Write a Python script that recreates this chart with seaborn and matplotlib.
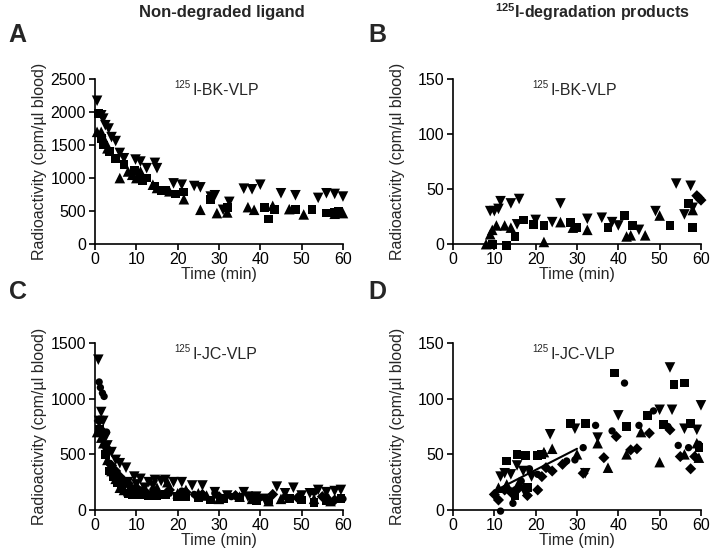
import numpy as np
import pandas as pd
import matplotlib
matplotlib.use("Agg")
import matplotlib.pyplot as plt
import seaborn as sns

# ── data ─────────────────────────────────────────────────────
# A: 125I-BK-VLP, non-degraded ligand
A_DOWN_X = [0.5, 1.5, 2, 2.5, 3.3, 4, 5, 6, 7, 9.8, 11, 12.5, 14.5, 15, 19, 21, 24, 25.5,
            28, 29, 31, 32.5, 36, 38, 40, 45, 48.5, 54, 56, 58, 60]
A_DOWN_Y = [2170, 1950, 1900, 1800, 1750, 1620, 1560, 1380, 1300, 1280, 1250, 1150, 1230,
            1150, 920, 900, 880, 860, 720, 740, 520, 640, 840, 830, 900, 770, 740, 700,
            770, 760, 720]
A_UP_X = [0.5, 1.5, 2.5, 3, 6, 8, 9, 10, 11, 14, 15, 18, 21.5, 25.5, 29.5, 32, 37, 38.5,
          43, 47, 50.5, 58, 60]
A_UP_Y = [1700, 1700, 1550, 1450, 1000, 1100, 1050, 1000, 1100, 900, 850, 800, 680, 520,
          470, 480, 560, 520, 580, 530, 450, 460, 470]
A_SQ_X = [0.8, 1.5, 2, 3.5, 5, 7, 9.5, 11.5, 12.5, 14.5, 16, 17, 19.5, 21.5, 28, 32, 41,
          42, 43.5, 48.5, 52.5, 56, 58, 59]
A_SQ_Y = [1980, 1600, 1500, 1400, 1300, 1200, 1120, 960, 1000, 880, 810, 820, 760, 790,
          680, 550, 560, 380, 530, 530, 520, 470, 480, 490]

# B: 125I-BK-VLP, degradation products
B_DOWN_X = [9, 10, 11, 11.5, 14, 16, 15.5, 20, 24, 26, 32.5, 36, 38.5, 40, 45, 49, 54,
            57.5, 56, 58]
B_DOWN_Y = [30, 30, 32, 39, 37, 41, 18, 22, 20, 37, 23, 24, 20, 17, 13, 30, 55, 53, 27, 33]
B_UP_X = [8, 9, 9.5, 10.5, 12.5, 14, 22, 26, 29, 32.5, 42, 43, 46.5, 50, 58]
B_UP_Y = [0, 9, 13, 17, 17, 15, 2, 20, 15, 13, 7, 8, 8, 26, 31]
B_SQ_X = [9.5, 13, 15, 17, 19.5, 22, 28.5, 30, 37.5, 41.5, 43.5, 52.5, 57, 58]
B_SQ_Y = [0, -1, 7, 22, 18, 17, 20, 15, 15, 26, 17, 17, 37, 15]
B_DIA_X = [59, 60, 59.5]
B_DIA_Y = [44, 40, 42]

# C: 125I-JC-VLP, non-degraded ligand
C_DOWN_X = [0.8, 1, 1.5, 2, 2.5, 3, 4, 5, 6, 7.5, 9.5, 11, 13, 14.5, 16, 17, 19, 21, 23.5,
            26, 29, 32, 36, 37, 39, 41, 44, 46, 48, 50, 52, 54, 56, 58, 59.5, 8, 10, 12, 14]
C_DOWN_Y = [1350, 800, 880, 800, 650, 580, 520, 450, 420, 380, 300, 280, 250, 270, 260,
            270, 250, 250, 220, 220, 160, 130, 160, 120, 120, 100, 210, 150, 200, 130, 150,
            180, 160, 170, 180, 250, 230, 200, 220]
C_UP_X = [0.5, 1.5, 2, 3, 4, 5, 6, 7, 8, 10, 12, 15, 17.5, 20, 22, 25, 27, 30, 35, 38, 42,
          45, 53, 57]
C_UP_Y = [700, 650, 600, 450, 350, 280, 200, 180, 170, 180, 150, 200, 250, 150, 180, 150,
          130, 100, 120, 100, 80, 100, 100, 80]
C_SQ_X = [1, 2.5, 3.5, 4.5, 5.5, 6.5, 8, 9, 11, 13, 15, 17, 20, 22, 25, 28, 31, 35, 39, 42,
          47, 50, 53, 56, 59.5]
C_SQ_Y = [720, 500, 350, 300, 250, 200, 150, 140, 140, 130, 130, 140, 120, 120, 110, 90,
          100, 110, 80, 90, 100, 90, 70, 80, 100]
C_CIR_X = [1, 1.3, 1.8, 2.2, 2.8, 3.5, 4.5, 6, 7, 9, 11, 14, 18, 21, 24, 29, 33, 40, 46,
           53, 56, 60]
C_CIR_Y = [1150, 1100, 1050, 1020, 700, 420, 330, 250, 220, 200, 180, 180, 150, 170, 140,
           150, 120, 110, 120, 160, 120, 100]
C_DIA_X = [1, 2, 3, 4, 5, 6, 7, 8, 10, 12, 15, 18, 22, 26, 30, 34, 38, 43, 49, 55, 58]
C_DIA_Y = [800, 700, 550, 400, 350, 300, 260, 240, 200, 170, 150, 180, 160, 140, 120, 130,
           110, 140, 110, 120, 90]

# D: 125I-JC-VLP, degradation products
D_SQ_X = [13, 15.5, 17.5, 20.5, 21.5, 28.5, 32, 39, 42, 47, 51, 53.5, 56, 57.5, 59.5, 18, 15]
D_SQ_Y = [44, 50, 49, 49, 50, 78, 78, 123, 75, 85, 77, 113, 114, 78, 56, 20, 13]
D_DOWN_X = [11.5, 12.5, 14, 15.5, 17, 23.5, 29.5, 32, 35, 40, 50, 52.5, 53, 56, 59, 60,
            19, 17.5]
D_DOWN_Y = [30, 33, 32, 40, 35, 68, 73, 33, 65, 85, 90, 128, 90, 73, 72, 94, 30, 15]
D_UP_X = [11, 13, 16, 22, 24, 30, 35, 37.5, 42, 45.5, 50, 56, 59.5, 59]
D_UP_Y = [20, 23, 25, 52, 55, 50, 60, 38, 50, 70, 43, 50, 47, 60]
D_CIR_X = [11.5, 14.5, 15, 16.5, 18.5, 20.5, 27.5, 29.5, 31.5, 34.5, 38.5, 41.5, 45, 48.5,
           54.5, 59.5, 52, 57]
D_CIR_Y = [-1, 6, 18, 26, 37, 32, 44, 45, 56, 76, 71, 114, 76, 89, 58, 59, 75, 56]
D_DIA_X = [10, 11, 12.5, 14, 16, 18, 20.5, 22.5, 24, 26.5, 31.5, 36.5, 39.5, 43, 44.5,
           47.5, 52.5, 55, 57.5, 58.5, 21.5]
D_DIA_Y = [14, 9, 18, 16, 20, 13, 18, 38, 35, 41, 33, 47, 66, 54, 55, 69, 72, 48, 37, 48, 30]
D_FIT_X = [10, 30]
D_FIT_Y = [17, 55]

X_TICKS = [0, 10, 20, 30, 40, 50, 60]

# ── style ────────────────────────────────────────────────────
sns.set_theme(style="ticks")
plt.rcParams.update({
    "font.family": ["Liberation Sans", "DejaVu Sans"],
    "mathtext.default": "regular",
    "axes.linewidth": 1.2,
    "xtick.major.width": 1.2,
    "ytick.major.width": 1.2,
    "xtick.major.size": 4,
    "ytick.major.size": 4,
    "xtick.major.pad": 1.5,
    "ytick.major.pad": 2.5,
    "xtick.labelsize": 11.5,
    "ytick.labelsize": 11.5,
    "axes.labelsize": 11.5,
    "axes.edgecolor": "black",
    "xtick.color": "black",
    "ytick.color": "black",
})

MARKERS = {"down": "v", "up": "^", "sq": "s", "cir": "o", "dia": "D"}
SIZES = {"down": 58, "up": 58, "sq": 40, "cir": 28, "dia": 32}


def make_df(**groups):
    rows = []
    for name, (xs, ys) in groups.items():
        rows += [(x, y, name) for x, y in zip(xs, ys)]
    return pd.DataFrame(rows, columns=["t", "cpm", "animal"])


def draw(ax, df, ymax, yticks, label):
    for name, sub in df.groupby("animal"):
        sns.scatterplot(data=sub, x="t", y="cpm", marker=MARKERS[name], s=SIZES[name],
                        color="black", edgecolor="none", linewidth=0, ax=ax,
                        legend=False, clip_on=False, zorder=3)
    ax.set_xlim(0, 60)
    ax.set_ylim(0, ymax)
    ax.set_xticks(X_TICKS)
    ax.set_yticks(yticks)
    ax.set_xlabel("Time (min)", labelpad=0)
    ax.set_ylabel("Radioactivity (cpm/µl blood)")
    ax.yaxis.set_label_coords(-0.195, 0.5)
    sns.despine(ax=ax)
    ax.text(0.32, 0.965, "125", transform=ax.transAxes, fontsize=7, ha="left", va="center")
    ax.text(0.395, 0.93, label, transform=ax.transAxes, fontsize=11.5, ha="left", va="center")


fig = plt.figure(figsize=(7.16, 5.6), dpi=100)
axA = fig.add_axes([0.1327, 0.564, 0.3463, 0.295])
axB = fig.add_axes([0.6327, 0.564, 0.3463, 0.295])
axC = fig.add_axes([0.1327, 0.0893, 0.3463, 0.2982])
axD = fig.add_axes([0.6327, 0.0893, 0.3463, 0.2982])

draw(axA, make_df(down=(A_DOWN_X, A_DOWN_Y), up=(A_UP_X, A_UP_Y), sq=(A_SQ_X, A_SQ_Y)),
     2500, [0, 500, 1000, 1500, 2000, 2500], "I-BK-VLP")
draw(axB, make_df(down=(B_DOWN_X, B_DOWN_Y), up=(B_UP_X, B_UP_Y), sq=(B_SQ_X, B_SQ_Y),
                  dia=(B_DIA_X, B_DIA_Y)),
     150, [0, 50, 100, 150], "I-BK-VLP")
draw(axC, make_df(down=(C_DOWN_X, C_DOWN_Y), up=(C_UP_X, C_UP_Y), sq=(C_SQ_X, C_SQ_Y),
                  cir=(C_CIR_X, C_CIR_Y), dia=(C_DIA_X, C_DIA_Y)),
     1500, [0, 500, 1000, 1500], "I-JC-VLP")
draw(axD, make_df(down=(D_DOWN_X, D_DOWN_Y), up=(D_UP_X, D_UP_Y), sq=(D_SQ_X, D_SQ_Y),
                  cir=(D_CIR_X, D_CIR_Y), dia=(D_DIA_X, D_DIA_Y)),
     150, [0, 50, 100, 150], "I-JC-VLP")
sns.lineplot(x=D_FIT_X, y=D_FIT_Y, color="black", linewidth=1.5, ax=axD, zorder=4)

# panel letters and column titles
for letter, x, y in [("A", 0.012, 0.938), ("B", 0.514, 0.938),
                     ("C", 0.012, 0.479), ("D", 0.514, 0.479)]:
    fig.text(x, y, letter, fontsize=18, fontweight="bold", va="center")
fig.text(0.31, 0.978, "Non-degraded ligand", fontsize=12, fontweight="bold",
         ha="center", va="center")
fig.text(0.828, 0.978, "$^{125}$I-degradation products", fontsize=11.5, fontweight="bold",
         ha="center", va="center")

fig.savefig("out.png", dpi=100)
